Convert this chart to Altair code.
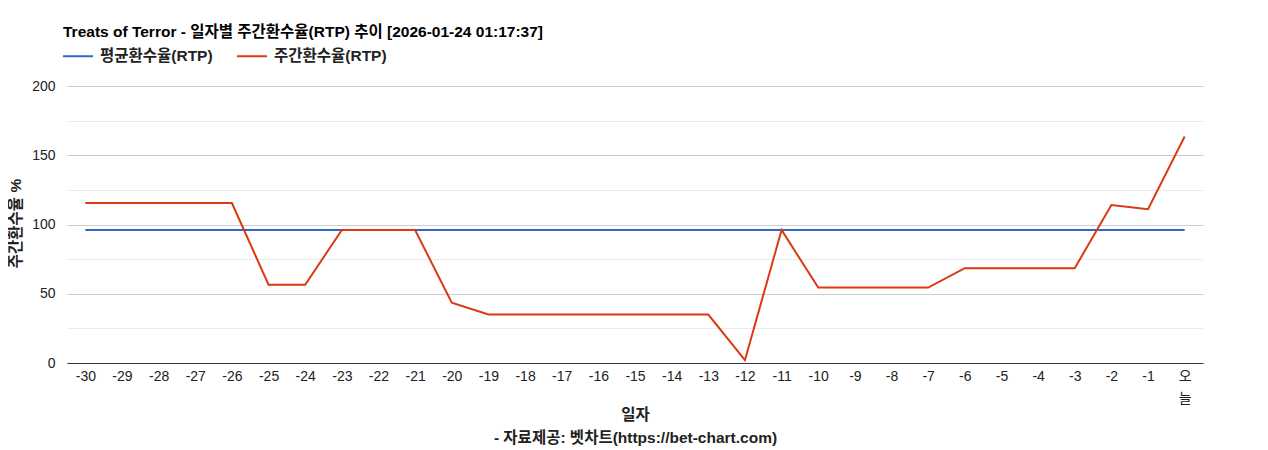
import altair as alt
import pandas as pd

days = [str(d) for d in range(-30, 0)] + ["오늘"]
weekly_rtp = [115.5, 115.5, 115.5, 115.5, 115.5, 56.5, 56.5, 96.0, 96.0, 96.0,
              43.5, 35.0, 35.0, 35.0, 35.0, 35.0, 35.0, 35.0, 2.0, 96.0,
              54.5, 54.5, 54.5, 54.5, 68.5, 68.5, 68.5, 68.5, 114.0, 111.0, 163.5]
avg_rtp = [96.0] * len(days)

s_avg = "평균환수율(RTP)"
s_week = "주간환수율(RTP)"
series_names = [s_avg, s_week]
series_colors = ["#3366cc", "#dc3912"]

title_text = "Treats of Terror - 일자별 주간환수율(RTP) 추이 [2026-01-24 01:17:37]"
y_title = "주간환수율 %"
x_title = ["일자", "- 자료제공: 벳차트(https://bet-chart.com)"]
y_ticks = [0, 25, 50, 75, 100, 125, 150, 175, 200]

FONT = "Arial, 'Liberation Sans', 'Noto Sans CJK KR', sans-serif"

rows = []
for i, d in enumerate(days):
    rows.append({"day": d, "series": s_avg, "value": avg_rtp[i], "order": i})
    rows.append({"day": d, "series": s_week, "value": weekly_rtp[i], "order": i})
df = pd.DataFrame(rows)

chart = alt.Chart(df).mark_line(strokeWidth=2).encode(
    x=alt.X("day:N", sort=days, scale=alt.Scale(type="point", padding=0.5),
            axis=alt.Axis(title=x_title, labelAngle=0, ticks=False, grid=False,
                          domainColor="#333333", domainWidth=1,
                          labelFont=FONT, labelFontSize=14, labelColor="#222222",
                          labelPadding=6,
                          labelExpr="datum.label == '오늘' ? ['오', '늘'] : datum.label",
                          labelLineHeight=22,
                          titleFont=FONT, titleFontSize=15.5, titleFontWeight="bold",
                          titleColor="#222222", titleY=44, titleBaseline="top",
                          titleLineHeight=23)),
    y=alt.Y("value:Q", scale=alt.Scale(domain=[0, 200], nice=False),
            axis=alt.Axis(title=y_title, values=y_ticks, domain=False, ticks=False,
                          labelExpr="datum.value % 50 == 0 ? datum.label : ''",
                          labelFont=FONT, labelFontSize=14, labelColor="#222222",
                          labelPadding=12,
                          gridColor={"condition": {"test": "datum.value % 50 == 0", "value": "#cccccc"},
                                     "value": "#ebebeb"},
                          titleFont=FONT, titleFontSize=15.5, titleFontWeight="bold",
                          titleColor="#222222", titleX=-52, titleY=137,
                          titleBaseline="middle", titleAlign="center")),
    color=alt.Color("series:N", scale=alt.Scale(domain=series_names, range=series_colors),
                    legend=alt.Legend(title=None, orient="none", direction="horizontal",
                                      legendX=-5, legendY=-46,
                                      symbolType="stroke", symbolSize=900, symbolStrokeWidth=2,
                                      labelFont=FONT, labelFontSize=15.5, labelFontWeight="bold",
                                      labelColor="#222222", labelOffset=6, columnPadding=20)),
    order="order:Q",
).properties(
    width=1136, height=277,
    title=alt.TitleParams(title_text, anchor="start", frame="group", font=FONT, fontSize=15.5,
                          fontWeight="bold", color="#000000", dx=-4, offset=0),
    padding={"left": 59, "top": 78, "right": 57, "bottom": 84},
    autosize=alt.AutoSizeParams(type="none"),
).configure_view(stroke=None)

chart.save("out.html", embed_options={"renderer": "svg", "actions": False})
